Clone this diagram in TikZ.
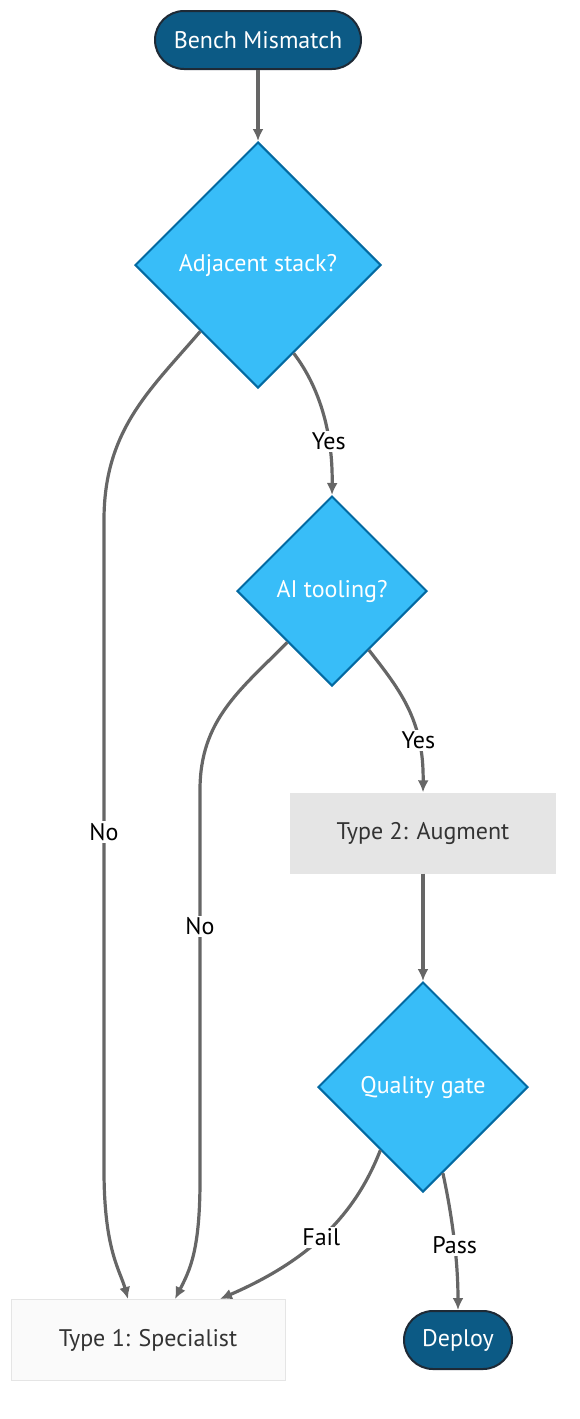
\documentclass[tikz,border=0pt]{standalone}
\usepackage{fontspec}
\setmainfont{PT Sans}
\usetikzlibrary{shapes.geometric,calc,arrows.meta}
\definecolor{termfill}{HTML}{0C5A85}
\definecolor{termline}{HTML}{1E2A36}
\definecolor{askfill}{HTML}{38BDF8}
\definecolor{askline}{HTML}{0369A1}
\definecolor{edgegray}{HTML}{666666}
\begin{document}
\begin{tikzpicture}[x=1pt, y=-1pt, >={Latex[length=12pt,width=11pt]},
    every node/.style={font=\fontsize{24}{28}\selectfont},
    term/.style={draw=termline, fill=termfill, text=white, line width=2pt,
      rounded corners=29pt, minimum height=58pt, minimum width=206pt},
    ask/.style={diamond, draw=askline, fill=askfill, text=white, line width=2pt,
      inner sep=0pt, aspect=1},
    plan/.style={rectangle, text=black!80, minimum width=266pt, minimum height=81pt},
    flow/.style={->, draw=edgegray, line width=3.2pt},
    lbl/.style={fill=white, text=black, inner sep=2pt}]
  \useasboundingbox (0, 0) rectangle (579, 1419);
  \node[term] (bench) at (258, 40) {Bench Mismatch};
  \node[ask, minimum width=246pt, minimum height=246pt] (adj) at (258, 265) {Adjacent stack?};
  \node[ask, minimum width=190pt, minimum height=190pt] (ai) at (332, 591) {AI tooling?};
  \node[plan, fill=black!10] (aug) at (423, 833) {Type 2: Augment};
  \node[ask, minimum width=210pt, minimum height=210pt] (qual) at (423, 1087) {Quality gate};
  \node[plan, fill=black!2, draw=black!10, line width=1pt, minimum width=274pt] (spec) at (148, 1340) {Type 1: Specialist};
  \node[term, minimum width=108pt] (dep) at (458, 1340) {Deploy};
  \draw[flow] (bench) -- (adj);
  \draw[flow] (adj.229) .. controls (150, 390) and (104, 430) .. (104, 520)
    -- node[lbl, pos=0.48] {No} (104, 1170)
    .. controls (104, 1250) and (120, 1270) .. ($(spec.north)+(-20, 0)$);
  \draw[flow] (adj.292) .. controls (318, 385) and (333, 430) .. node[lbl, pos=0.7] {Yes} (ai.north);
  \draw[flow] (ai.229) .. controls (240, 690) and (200, 720) .. (200, 790)
    -- node[lbl, pos=0.35] {No} (200, 1180)
    .. controls (200, 1250) and (190, 1270) .. ($(spec.north)+(27, 0)$);
  \draw[flow] (ai.302) .. controls (400, 690) and (424, 720) .. node[lbl, pos=0.72] {Yes} (aug.north);
  \draw[flow] (aug) -- (qual);
  \draw[flow] (qual.236) .. controls (355, 1215) and (310, 1260) .. node[lbl, pos=0.52] {Fail} ($(spec.north)+(72, 0)$);
  \draw[flow] (qual.283) .. controls (452, 1215) and (458, 1260) .. node[lbl, pos=0.55] {Pass} (dep.north);
\end{tikzpicture}
\end{document}
